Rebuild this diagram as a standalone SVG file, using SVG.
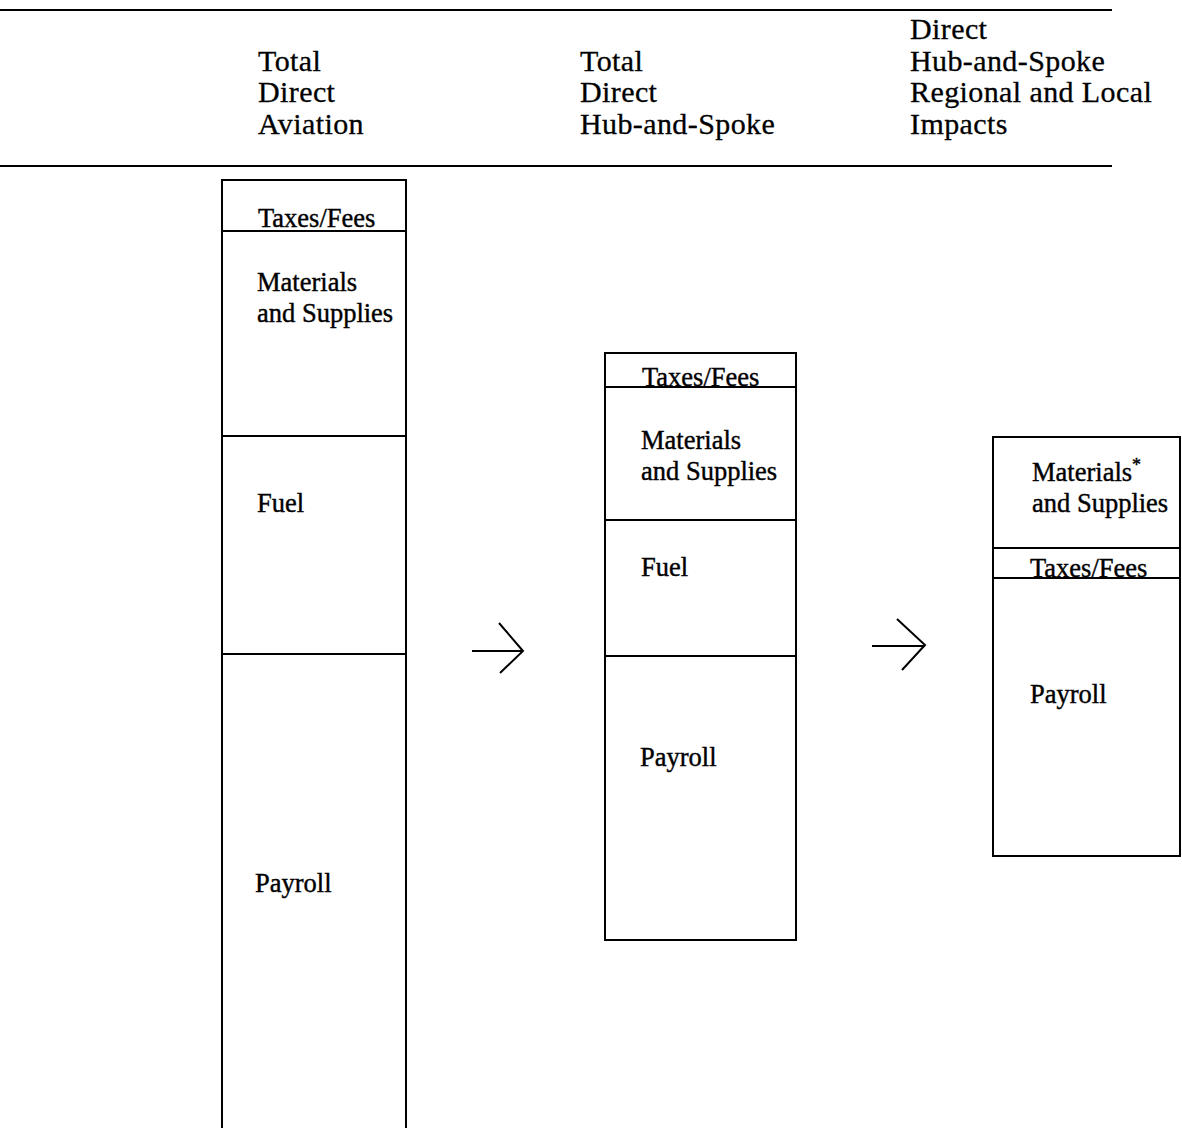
<svg xmlns="http://www.w3.org/2000/svg" width="1182" height="1128" viewBox="0 0 1182 1128">
<style>
.ln{stroke:#000;stroke-width:2;fill:none}
.hd{font-family:"Liberation Serif","Times New Roman",serif;font-size:30px;letter-spacing:0.4px;fill:#000;stroke:#000;stroke-width:0.3}
.lb{font-family:"Liberation Serif","Times New Roman",serif;font-size:26.5px;fill:#000;stroke:#000;stroke-width:0.4}
</style>
<rect width="1182" height="1128" fill="#fff"/>
<g id="header">
<line class="ln" x1="0" y1="10" x2="1112" y2="10"/>
<line class="ln" x1="0" y1="166" x2="1112" y2="166"/>
<text class="hd" x="258" y="71">Total</text>
<text class="hd" x="258" y="102">Direct</text>
<text class="hd" x="258" y="134">Aviation</text>
<text class="hd" x="580" y="71">Total</text>
<text class="hd" x="580" y="102">Direct</text>
<text class="hd" x="580" y="134">Hub-and-Spoke</text>
<text class="hd" x="910" y="39">Direct</text>
<text class="hd" x="910" y="71">Hub-and-Spoke</text>
<text class="hd" x="910" y="102">Regional and Local</text>
<text class="hd" x="910" y="134">Impacts</text>
</g>
<g id="box-aviation">
<path class="ln" d="M222,1128 V180 H406 V1128"/>
<line class="ln" x1="222" y1="231" x2="406" y2="231"/>
<line class="ln" x1="222" y1="436" x2="406" y2="436"/>
<line class="ln" x1="222" y1="654" x2="406" y2="654"/>
<text class="lb" x="258" y="227">Taxes/Fees</text>
<text class="lb" x="257" y="291">Materials</text>
<text class="lb" x="257" y="322">and Supplies</text>
<text class="lb" x="257" y="512">Fuel</text>
<text class="lb" x="255" y="892">Payroll</text>
</g>
<g id="box-hub">
<rect class="ln" x="605" y="353" width="191" height="587"/>
<line class="ln" x1="605" y1="387" x2="796" y2="387"/>
<line class="ln" x1="605" y1="520" x2="796" y2="520"/>
<line class="ln" x1="605" y1="656" x2="796" y2="656"/>
<text class="lb" x="642" y="386">Taxes/Fees</text>
<text class="lb" x="641" y="449">Materials</text>
<text class="lb" x="641" y="480">and Supplies</text>
<text class="lb" x="641" y="576">Fuel</text>
<text class="lb" x="640" y="766">Payroll</text>
</g>
<g id="box-regional">
<rect class="ln" x="993" y="437" width="187" height="419"/>
<line class="ln" x1="993" y1="548" x2="1180" y2="548"/>
<line class="ln" x1="993" y1="578" x2="1180" y2="578"/>
<text class="lb" x="1032" y="481">Materials<tspan font-size="18" dy="-10">*</tspan></text>
<text class="lb" x="1032" y="512">and Supplies</text>
<text class="lb" x="1030" y="577">Taxes/Fees</text>
<text class="lb" x="1030" y="703">Payroll</text>
</g>
<g id="connectors">
<path class="ln" d="M472,651 H523 M499,623 L523,651 L500,673"/>
<path class="ln" d="M872,646 H925 M897,619 L925,645 L902,670"/>
</g>
</svg>
